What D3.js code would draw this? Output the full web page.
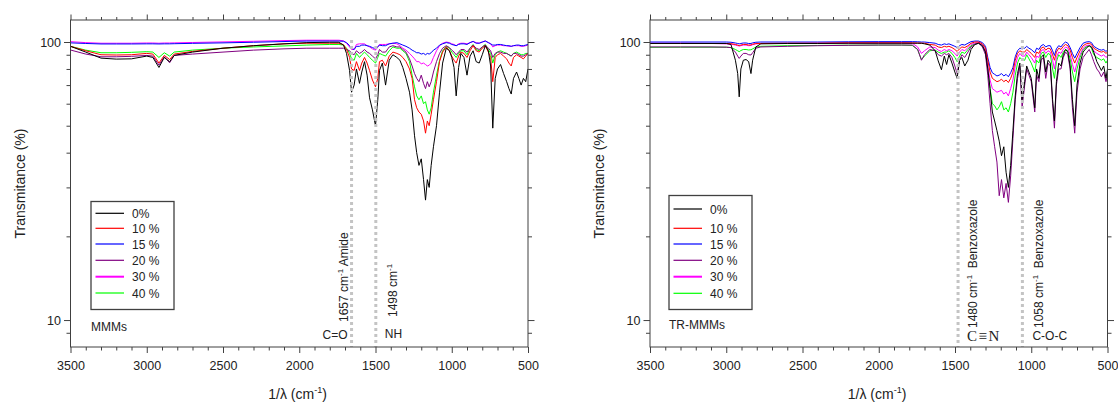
<!DOCTYPE html>
<html>
<head>
<meta charset="utf-8">
<script src="https://cdn.jsdelivr.net/npm/d3@7"></script>
<style>
body { margin: 0; background: #fff; }
svg text { font-family: Arial, "Liberation Sans", sans-serif; fill: #222; }
</style>
</head>
<body>
<svg id="chart" width="1118" height="403"></svg>
<script>
// FTIR spectra of the two membrane sets, transmittance (%) vs wavenumber

var seriesNames = ["0%", "10 %", "15 %", "20 %", "30 %", "40 %"];
var seriesColors = ["#000000", "#ff0000", "#0000ff", "#800080", "#ff00ff", "#00ff00"];

// ---- MMMs panel ----
var waveMMMs = [3500, 3400, 3300, 3200, 3100, 3000, 2960, 2920, 2885, 2850, 2820, 2700, 2500, 2300, 2100, 1950, 1800,
	1740, 1710, 1690, 1670, 1657, 1640, 1625, 1605, 1590, 1572, 1555,
	1539, 1520, 1500, 1485, 1474, 1455, 1434, 1410, 1386, 1360,
	1340, 1321, 1300, 1277, 1260, 1244, 1230, 1215, 1200, 1185,
	1172, 1160, 1148, 1135, 1120, 1100, 1080, 1060, 1036, 1015,
	1000, 985, 971, 955, 940, 920, 900, 880, 860, 840,
	820, 800, 780, 760, 745, 731, 715, 700, 680, 660,
	640, 625, 610, 595, 575, 560, 545, 530, 515, 500];
var mmms0 = [96.5, 92, 87.5, 86.8, 87, 89, 88, 81, 88, 85, 89.5, 92, 95, 97, 98.5, 99.5, 99.8,
	99.8, 97.5, 91, 79, 66, 70, 80, 71, 78, 85, 76,
	63, 57, 50, 62, 79, 84, 70, 86, 90, 88,
	86, 81, 74, 66, 57, 46, 40, 36, 38, 32,
	27, 32, 30, 36, 42, 50, 66, 84, 95, 93,
	88, 81, 64, 81, 91, 88, 76, 89, 93, 85,
	84, 90, 97, 93, 82, 49, 74, 80, 83, 77,
	72, 68, 65, 74, 78, 74, 70, 74, 72, 80];
var mmms10 = [96.5, 93, 90, 89.8, 90, 91, 90.5, 84, 89.5, 86.5, 90.5, 92.5, 95, 97, 98.5, 99, 99,
	99, 97.8, 94, 88, 80, 79, 85, 79, 84, 88, 84,
	79, 73, 69, 74, 85, 86, 82, 89, 92, 91,
	90, 88, 85, 80, 74, 62, 58, 56, 55, 52,
	47, 52, 50, 55, 62, 72, 85, 92, 96, 93,
	89, 86, 84, 89, 92, 91, 88, 93, 97, 93,
	92, 95, 97, 92, 88, 72, 88, 90, 91, 89,
	87, 84, 82, 88, 90, 89, 88, 87, 89, 91];
var mmms15 = [99.3, 98.8, 98.4, 98.4, 98.4, 98.5, 98.5, 98.4, 98.5, 98.5, 98.6, 98.9, 99.3, 99.8, 100.4, 100.8, 100.8,
	100.8, 100.6, 99.5, 97, 95, 94, 96.5, 96.5, 97.5, 97.5, 97,
	96.5, 95.5, 94.5, 96, 97.5, 97, 97, 98.5, 99, 99.5,
	98.5, 97.5, 96.5, 95, 93.5, 92.5, 91.5, 91.5, 90.5, 91,
	90, 91, 90.5, 91.5, 93.5, 95, 97.5, 98.5, 99.5, 99,
	98, 97.5, 97, 98, 98.5, 98.5, 98, 99.5, 100.5, 99,
	99, 100, 100.8, 99.5, 98.5, 97.5, 97.5, 98, 98, 97.5,
	97, 97, 96.5, 97, 97.5, 97.5, 97, 97, 97.5, 98];
var mmms20 = [93.6, 90.5, 88.5, 88.5, 88.8, 89.5, 89, 82.6, 88.5, 84.2, 89.5, 90.5, 92, 93.5, 94.5, 95, 95,
	95, 95, 94, 93, 91, 90, 93, 91, 92, 94, 92,
	91, 89, 87, 90, 94, 92, 92, 96, 97, 96,
	96, 94, 92, 87, 82, 77, 74, 72, 76, 71,
	68, 72, 69, 72, 78, 85, 91, 95, 97, 95.5,
	93.5, 92, 90, 92, 94, 94, 92, 95, 97.5, 95,
	94, 96, 97.5, 95, 93, 88, 91, 92, 92, 91,
	91, 90, 89, 91, 91, 90, 89, 89, 90, 91];
var mmms30 = [100.3, 99.5, 99, 99, 99, 99.2, 99.2, 99, 99.2, 99.2, 99.3, 99.6, 100.1, 100.6, 101.2, 101.5, 101.5,
	101.5, 101, 99, 96, 94, 94, 98, 98.5, 98.5, 98.5, 97,
	96, 94.5, 93.5, 96, 98, 98, 98, 98.5, 99, 98.5,
	97, 95, 93.5, 91, 89, 87, 85, 85, 83.5, 84,
	83, 82, 82.5, 84, 88, 93, 97, 99, 100, 99.5,
	98.5, 98, 97, 98.5, 99, 99, 98.5, 99.5, 100.5, 99.5,
	99, 100, 101, 99.5, 98.5, 96, 97, 97.5, 97.5, 97,
	97, 96.5, 96.5, 97, 97, 97, 96.5, 96.5, 97, 97.5];
var mmms40 = [96.5, 93.5, 91.5, 91.5, 91.8, 92.3, 92, 88, 91.5, 89, 92, 93.5, 95, 96, 96.8, 97.5, 98,
	98, 97.5, 95, 91, 87, 86, 91, 88, 90, 92, 90,
	88, 86, 84, 88, 91, 90, 89, 93, 96, 95,
	95, 93, 91, 85, 76, 69, 64, 62, 64, 60,
	61, 57, 55, 58, 66, 76, 86, 93, 96.5, 95,
	92, 90, 88, 91, 93, 93, 90, 95, 98, 94,
	93, 96, 98, 94, 91, 84, 90, 92, 93, 92,
	91, 90, 89, 91, 92, 91, 90, 90, 91, 91];
var bandsMMMs = [1657, 1498];

// ---- TR-MMMs panel ----
var waveTR = [3500, 3300, 3100, 3000, 2969, 2940, 2925, 2915, 2904, 2888, 2870, 2853, 2838, 2827, 2806, 2773,
	2600, 2400, 2200, 2000, 1850, 1780, 1745, 1720, 1700,
	1665, 1630, 1610, 1589, 1570, 1555, 1540, 1520, 1501, 1486,
	1470, 1455, 1436, 1415, 1395, 1370, 1345, 1320, 1300, 1285,
	1270, 1255, 1240, 1225, 1210, 1195, 1180, 1165, 1150, 1135,
	1120, 1105, 1090, 1075, 1060, 1043, 1030, 1015, 1000,
	977, 965, 950, 935, 920, 905, 890, 875, 860, 848,
	835, 820, 805, 790, 775, 760, 745, 730, 715, 700,
	680, 660, 640, 620, 605, 590, 570, 555, 540, 525,
	510, 500];
var tr0 = [98.8, 98.8, 98.8, 98.8, 98, 86, 77, 63.5, 80, 86, 86.5, 85, 77, 86, 96, 98.5,
	98.8, 98.8, 99, 99, 99, 99, 99, 99, 98.5,
	97.5, 93, 85.5, 79.5, 89, 83, 90, 84, 78, 74,
	86, 88, 82, 86, 94, 98, 99, 97, 92, 80,
	68, 56, 52, 48, 44, 39, 42, 34, 30, 36,
	48, 64, 77, 84, 62, 72, 82, 78, 74,
	58, 80, 74, 88, 90, 78, 86, 84, 62, 52,
	72, 84, 82, 90, 94, 92, 82, 62, 50, 70,
	84, 92, 95, 97, 96, 92, 85, 82, 79, 82,
	74, 80];
var tr10 = [98.8, 98.8, 98.8, 98.8, 98.6, 98, 97.5, 97, 97.5, 98, 98, 97.5, 97.6, 98.2, 98.7, 98.8,
	99, 99, 99.3, 99.3, 99.3, 99.3, 99.2, 99, 99,
	98, 97.5, 96, 95.5, 96.5, 96, 96.5, 95.5, 94, 92.5,
	94.5, 96, 95.5, 97, 99, 100, 100, 98.5, 95, 86,
	78, 74, 73, 72, 72.5, 73.5, 72, 73, 71.5, 74,
	78, 86, 91, 93, 92, 92, 94, 92.5, 91,
	88, 92, 91, 95, 96, 93.5, 95, 94.5, 90, 86,
	92, 95, 94, 96.5, 98, 97, 93.5, 88, 84, 88,
	93, 97, 98.5, 99, 98, 95, 93.5, 92.5, 92, 92.5,
	91, 92];
var tr15 = [100, 100, 100, 100, 99.8, 99.2, 98.8, 98.5, 98.8, 99.2, 99.2, 98.8, 98.8, 99.3, 99.8, 100,
	100, 100, 100.2, 100.3, 100.3, 100.3, 100.2, 100, 100,
	99.5, 99, 98, 97.5, 98.5, 98, 98.5, 97.5, 96.5, 95.5,
	97, 98, 97.5, 99, 100.3, 100.8, 100.8, 99.5, 96.5, 88,
	81, 77.5, 76.5, 75.5, 76, 77, 75.5, 76.5, 75, 77.5,
	81, 88.5, 93, 95, 94.5, 95, 96.5, 95, 94,
	91.5, 95, 94, 97, 98, 96, 97, 97, 93, 89.5,
	94.5, 97, 96, 98.5, 100, 99, 95.5, 91, 87.5, 91,
	95.5, 99, 100, 100.3, 99.5, 96.5, 95, 94, 93.5, 94,
	92.5, 93.5];
var tr20 = [96, 96, 96, 95.8, 95.5, 92, 89, 87.3, 89, 91, 91, 90, 89.8, 91.5, 95, 96,
	96.5, 97, 97.3, 97.5, 97.5, 97.5, 94, 86, 90,
	94, 93, 90, 89, 91, 90, 91, 88, 82, 77,
	86, 90, 88, 92, 96, 98, 99, 96, 90, 76,
	60, 48, 42, 37, 28, 32, 27.5, 31, 26.5, 33,
	45, 62, 74, 82, 58, 70, 80, 76, 72,
	56, 76, 72, 86, 88, 74, 84, 82, 60, 49,
	70, 80, 80, 88, 92, 90, 80, 58, 47, 66,
	80, 88, 91, 94, 90, 85, 80, 78, 75, 78,
	72, 76];
var tr30 = [99, 99, 98.8, 98.5, 98.3, 97.5, 97, 96.8, 97, 97.5, 97.5, 97, 97.2, 97.8, 98.5, 98.8,
	98.8, 99, 99.2, 99.3, 99.3, 99, 96, 91, 93,
	96, 95.5, 93.5, 92.5, 94, 93, 94, 93, 91, 89,
	92, 94, 93, 95.5, 98, 99, 99.5, 97.5, 93, 82,
	73, 68, 67, 66, 66.5, 67, 65, 66, 64, 68,
	73, 82, 88, 91, 89, 89, 92, 90, 88,
	84, 89, 88, 93, 94, 91, 93, 92, 86, 80,
	88, 92, 91, 94, 96, 95, 90, 83, 78, 84,
	90, 95, 97, 97.5, 96, 93, 91, 90, 89, 90,
	88, 89];
var tr40 = [95.7, 95.8, 95.8, 95.8, 95.5, 94, 93, 92.3, 93.2, 94, 94, 93.6, 93.8, 94.5, 95.8, 96.5,
	97, 97.2, 97.4, 97.5, 97.5, 97.2, 94, 86.5, 89,
	93, 93.5, 92, 91, 92, 92, 93, 91, 88, 85,
	89, 92, 91, 94, 97, 98.5, 99, 97, 92, 80,
	68, 60, 59, 57, 58.5, 61, 57, 58, 56, 60,
	66, 76, 84, 88, 86, 86, 90, 87, 84,
	78, 86, 84, 91, 92, 88, 91, 90, 80, 74,
	85, 90, 88, 92, 94, 93, 87, 78, 72, 80,
	88, 94, 96, 97, 95, 90, 88, 87, 86, 87,
	84, 86];
var bandsTR = [1480, 1058];

var xMajor = [3500, 3000, 2500, 2000, 1500, 1000, 500];
var yMajor = [10, 100];
var yMinor = [9, 20, 30, 40, 50, 60, 70, 80, 90];

var svg = d3.select("#chart");
var plotTop = 20;
var plotBottom = 347;

function styleAxis(sel) {
	sel.select(".domain").remove();
	sel.selectAll("line").attr("stroke", "#404040");
	sel.selectAll("text").style("font-size", "12.5px").attr("fill", "#222");
}

// superscript cm-1 text, optionally rotated
function cmText(g, tx, ty, head, tail, rotated, size) {
	var t = g.append("text")
		.attr("transform", "translate(" + tx + "," + ty + ")" + (rotated ? " rotate(-90)" : ""))
		.style("font-size", size + "px")
		.style("white-space", "pre");
	t.append("tspan").text(head);
	t.append("tspan").attr("dy", -size * 0.42).style("font-size", (size * 0.65) + "px").text("-1");
	t.append("tspan").attr("dy", size * 0.42).text(tail);
	return t;
}

function drawPanel(p) {
	var x = d3.scaleLinear().domain([3500, 500]).range([p.left, p.right]);
	var y = d3.scaleLog().domain([8, 120]).range([plotBottom, plotTop]);
	var g = svg.append("g");

	svg.append("clipPath").attr("id", "clip" + p.id)
		.append("rect")
		.attr("x", p.left).attr("y", plotTop)
		.attr("width", p.right - p.left).attr("height", plotBottom - plotTop);

	var xMinor = d3.range(600, 3500, 100).filter(function(d) { return d % 500 !== 0; });

	// bottom / top axes
	g.append("g").attr("transform", "translate(0," + plotBottom + ")")
		.call(d3.axisBottom(x).tickValues(xMinor).tickSize(3.5).tickFormat(""))
		.call(styleAxis);
	g.append("g").attr("transform", "translate(0," + plotBottom + ")")
		.call(d3.axisBottom(x).tickValues(xMajor).tickSize(6).tickPadding(8).tickFormat(d3.format("d")))
		.call(styleAxis);
	g.append("g").attr("transform", "translate(0," + plotTop + ")")
		.call(d3.axisTop(x).tickValues(xMinor).tickSize(3).tickFormat(""))
		.call(styleAxis);
	g.append("g").attr("transform", "translate(0," + plotTop + ")")
		.call(d3.axisTop(x).tickValues(xMajor).tickSize(5.5).tickFormat(""))
		.call(styleAxis);

	// left / right axes
	g.append("g").attr("transform", "translate(" + p.left + ",0)")
		.call(d3.axisLeft(y).tickValues(yMinor).tickSize(4).tickFormat(""))
		.call(styleAxis);
	g.append("g").attr("transform", "translate(" + p.left + ",0)")
		.call(d3.axisLeft(y).tickValues(yMajor).tickSize(6.5).tickPadding(3).tickFormat(d3.format("d")))
		.call(styleAxis);
	g.append("g").attr("transform", "translate(" + p.right + ",0)")
		.call(d3.axisRight(y).tickValues(yMinor).tickSize(4).tickFormat(""))
		.call(styleAxis);
	g.append("g").attr("transform", "translate(" + p.right + ",0)")
		.call(d3.axisRight(y).tickValues(yMajor).tickSize(6.5).tickFormat(""))
		.call(styleAxis);

	// spectra, 40% drawn first so 0% lies on top
	var curves = g.append("g").attr("clip-path", "url(#clip" + p.id + ")");
	for (var s = p.series.length - 1; s >= 0; s--) {
		var line = d3.line()
			.x(function(d, i) { return x(p.wave[i]); })
			.y(function(d) { return y(d); });
		curves.append("path")
			.datum(p.series[s])
			.attr("fill", "none")
			.attr("stroke", seriesColors[s])
			.attr("stroke-width", 1)
			.attr("d", line);
	}

	// band markers
	p.bands.forEach(function(b) {
		g.append("line")
			.attr("x1", x(b)).attr("x2", x(b))
			.attr("y1", 40).attr("y2", plotBottom)
			.attr("stroke", "#c4c4c4")
			.attr("stroke-width", 3)
			.attr("stroke-dasharray", "3,3");
	});
	p.notes(g, x);

	// frame
	g.append("rect")
		.attr("x", p.left).attr("y", plotTop)
		.attr("width", p.right - p.left).attr("height", plotBottom - plotTop)
		.attr("fill", "none").attr("stroke", "#404040").attr("stroke-width", 1);

	// axis titles
	g.append("text")
		.attr("transform", "translate(" + (p.left - 46) + "," + ((plotTop + plotBottom) / 2) + ") rotate(-90)")
		.attr("text-anchor", "middle")
		.style("font-size", "14px")
		.text("Transmitance (%)");
	cmText(g, 0, 0, "1/\u03bb (cm", ")", false, 14)
		.attr("transform", "translate(" + ((p.left + p.right) / 2 - 31) + ",399)");

	// legend
	var lg = g.append("g");
	lg.append("rect")
		.attr("x", p.left + p.legendDx).attr("y", p.legendTop)
		.attr("width", 83).attr("height", 309.5 - p.legendTop)
		.attr("fill", "#fff").attr("stroke", "#404040").attr("stroke-width", 1.3);
	seriesNames.forEach(function(name, i) {
		var ry = p.legendRows[i];
		lg.append("line")
			.attr("x1", p.left + p.legendDx + 4.5).attr("x2", p.left + p.legendDx + 33)
			.attr("y1", ry).attr("y2", ry)
			.attr("stroke", seriesColors[i])
			.attr("stroke-width", i === 4 ? 2 : 1.2);
		lg.append("text")
			.attr("x", p.left + p.legendDx + 41).attr("y", ry + 4.5)
			.style("font-size", "12px")
			.text(name);
	});
	g.append("text")
		.attr("x", p.left + p.legendDx).attr("y", p.nameY)
		.style("font-size", "12px")
		.text(p.name);
}

drawPanel({
	id: "L", left: 70.5, right: 528,
	wave: waveMMMs,
	series: [mmms0, mmms10, mmms15, mmms20, mmms30, mmms40],
	bands: bandsMMMs,
	name: "MMMs", nameY: 330.5,
	legendDx: 20.5, legendTop: 201.5,
	legendRows: [213.3, 228.3, 244, 260.3, 276.7, 293],
	notes: function(g, x) {
		cmText(g, x(bandsMMMs[0]) - 4, 322, "1657 cm", " Amide", true, 12);
		g.append("text").attr("x", x(bandsMMMs[0]) - 4).attr("y", 339)
			.attr("text-anchor", "end").style("font-size", "12px").text("C=O");
		cmText(g, x(bandsMMMs[1]) + 21, 317, "1498 cm", "", true, 12);
		g.append("text").attr("x", x(bandsMMMs[1]) + 9).attr("y", 338)
			.style("font-size", "12px").text("NH");
	}
});

drawPanel({
	id: "R", left: 650, right: 1107.5,
	wave: waveTR,
	series: [tr0, tr10, tr15, tr20, tr30, tr40],
	bands: bandsTR,
	name: "TR-MMMs", nameY: 329,
	legendDx: 19, legendTop: 195.5,
	legendRows: [209, 228.3, 244, 260.3, 276.7, 293.3],
	notes: function(g, x) {
		cmText(g, x(bandsTR[0]) + 19, 328, "1480 cm", "  Benzoxazole", true, 12);
		g.append("text").attr("x", x(bandsTR[0]) + 9).attr("y", 341)
			.style("font-family", "'Liberation Serif', 'Times New Roman', serif")
			.style("font-size", "15px").style("letter-spacing", "1.5px")
			.text("C\u2261N");
		cmText(g, x(bandsTR[1]) + 21, 328, "1058 cm", "  Benzoxazole", true, 12);
		g.append("text").attr("x", x(bandsTR[1]) + 10).attr("y", 340)
			.style("font-size", "12px").text("C-O-C");
	}
});
</script>
</body>
</html>
